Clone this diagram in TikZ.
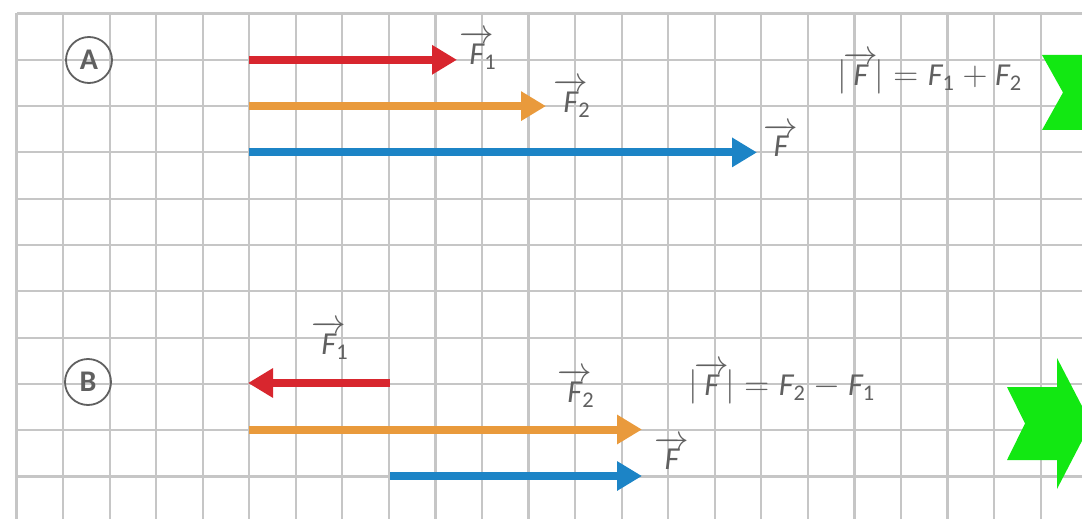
\documentclass[tikz,border=0pt]{standalone}
\usepackage{amsmath}
\usepackage{fontspec}
\setmainfont{Carlito}
\usepackage{xcolor}
\usepackage{tikz}
\usetikzlibrary{arrows.meta}

\definecolor{fred}{HTML}{D8262E}
\definecolor{forange}{HTML}{E99A3C}
\definecolor{fblue}{HTML}{1C84C6}
\definecolor{fgreen}{HTML}{12E812}
\definecolor{ink}{HTML}{606060}

\newcommand{\arrF}{\overrightarrow{\textit{F}}\mkern-5mu}
\newcommand{\vF}[1]{$\arrF_{\textrm{#1}}$}

\begin{document}
\begin{tikzpicture}[x=0.5pt, y=-0.5pt,
        force/.style={line width=4pt, -{Triangle[length=12.5pt,width=14pt]}},
        gridline/.style={gray!45, line width=1.1pt},
        lbl/.style={text=ink, inner sep=0pt, font=\fontsize{16}{18}\selectfont},
        tag/.style={circle, draw=ink, line width=0.9pt, minimum size=23pt, inner sep=0pt, text=ink, font=\bfseries\fontsize{15}{16}\selectfont},
        chevron/.style={fill=fgreen, draw=none}]

        \useasboundingbox (0,0) rectangle (1082,519);
        \clip (0,0) rectangle (1082,519);

        \foreach \i in {0,...,22}
          \draw[gridline] (16.5+46.55*\i,13.5) -- (16.5+46.55*\i,519);
        \foreach \j in {0,...,10}
          \draw[gridline] (16.5,13.5+46.3*\j) -- (1082,13.5+46.3*\j);

        % case A
        \node[tag] (tagA) at (89,60) {A};
        \coordinate (a1s) at (249,59.8);
        \coordinate (a1e) at (457,59.8);
        \coordinate (a2s) at (249,106.1);
        \coordinate (a2e) at (546,106.1);
        \coordinate (ars) at (249,152.4);
        \coordinate (are) at (757,152.4);
        \draw[force, fred] (a1s) -- (a1e);
        \draw[force, forange] (a2s) -- (a2e);
        \draw[force, fblue] (ars) -- (are);
        \node[lbl] (fA1) at (478,50) {\vF{1}};
        \node[lbl] (fA2) at (572,98) {\vF{2}};
        \node[lbl] (fA) at (781,140) {$\overrightarrow{\textit{F}}$};
        \node[lbl] (sumA) at (930,73) {$\lvert\mkern-2mu\overrightarrow{\textit{F}}\mkern-2mu\rvert = \textit{F}_{\textrm{1}} + \textit{F}_{\textrm{2}}$};
        \fill[chevron] (1042,55) -- (1100,55) -- (1100,26) -- (1134,92.5) -- (1100,159) -- (1100,130) -- (1042,130) -- (1063,92.5) -- cycle;

        % case B
        \node[tag] (tagB) at (88,382) {B};
        \coordinate (b1s) at (390,383);
        \coordinate (b1e) at (248,383);
        \coordinate (b2s) at (249,429.5);
        \coordinate (b2e) at (642,429.5);
        \coordinate (brs) at (390,476);
        \coordinate (bre) at (642,476);
        \draw[force, fred] (b1s) -- (b1e);
        \draw[force, forange] (b2s) -- (b2e);
        \draw[force, fblue] (brs) -- (bre);
        \node[lbl] (fB1) at (330,340) {\vF{1}};
        \node[lbl] (fB2) at (576,388) {\vF{2}};
        \node[lbl] (fB) at (672,453) {$\overrightarrow{\textit{F}}$};
        \node[lbl] (diffB) at (782,383) {$\lvert\mkern-2mu\overrightarrow{\textit{F}}\mkern-2mu\rvert = \textit{F}_{\textrm{2}} - \textit{F}_{\textrm{1}}$};
        \fill[chevron] (1007,387) -- (1057,387) -- (1057,358) -- (1091,423.5) -- (1057,489) -- (1057,460) -- (1007,460) -- (1025,423.5) -- cycle;
      \end{tikzpicture}
\end{document}
